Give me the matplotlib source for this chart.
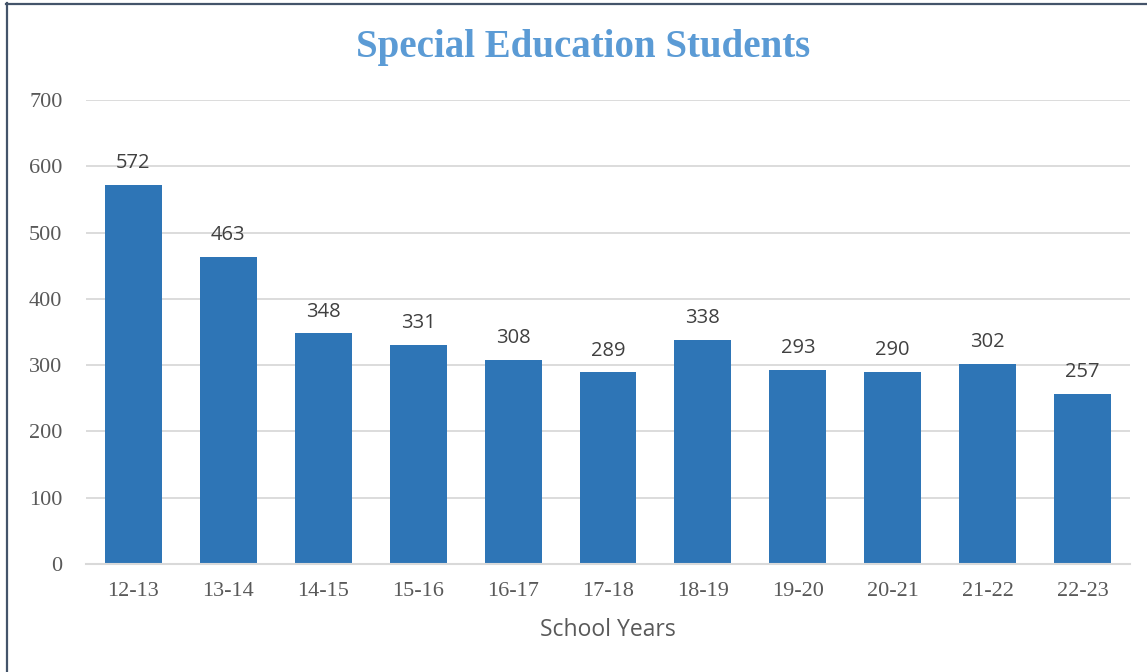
import matplotlib
matplotlib.use("Agg")
import matplotlib.pyplot as plt
from matplotlib.lines import Line2D

categories = ["12-13", "13-14", "14-15", "15-16", "16-17", "17-18",
              "18-19", "19-20", "20-21", "21-22", "22-23"]
students = [572, 463, 348, 331, 308, 289, 338, 293, 290, 302, 257]
y_ticks = [0, 100, 200, 300, 400, 500, 600, 700]

W, H = 1147, 672
fig = plt.figure(figsize=(W / 100, H / 100), dpi=100)
fig.patch.set_facecolor("white")

ax = fig.add_axes([86 / W, 1 - 564 / H, (1130 - 86) / W, (564 - 100) / H])
x = list(range(len(categories)))
bars = ax.bar(x, students, width=0.6, color="#2E75B6", zorder=3)
ax.set_xlim(-0.5, len(categories) - 0.5)
ax.set_ylim(0, 700)
ax.set_yticks(y_ticks)
ax.set_xticks(x)
ax.set_xticklabels(categories)

serif = ["Liberation Serif", "DejaVu Serif"]
sans = ["Open Sans", "DejaVu Sans"]
for lab in ax.get_yticklabels() + ax.get_xticklabels():
    lab.set_family(serif)
    lab.set_fontsize(16)
    lab.set_color("#595959")
ax.tick_params(axis="y", length=0, pad=17)
ax.tick_params(axis="x", length=0, pad=13)

ax.grid(axis="y", color="#D9D9D9", linewidth=1.3, zorder=0)
for s in ["left", "right", "top"]:
    ax.spines[s].set_visible(False)
ax.spines["bottom"].set_color("#D9D9D9")
ax.spines["bottom"].set_linewidth(1.5)
ax.spines["bottom"].set_zorder(4)

for xi, v in zip(x, students):
    ax.annotate(str(v), (xi, v), xytext=(0, 8.5), textcoords="offset points",
                ha="center", va="bottom", fontsize=14.5, color="#404040",
                family=sans)

ax.set_xlabel("School Years", fontsize=16.5, color="#595959", family=sans, labelpad=12)

fig.text(583 / W, 1 - 47 / H, "Special Education Students", ha="center", va="center",
         fontsize=28, fontweight="bold", color="#5B9BD5", family=serif)

# outer frame lines (left and top)
fig.add_artist(Line2D([6.5 / W, 6.5 / W], [0, 1 - 3 / H], transform=fig.transFigure,
                      color="#44546A", linewidth=1.6))
fig.add_artist(Line2D([6 / W, 1], [1 - 3.5 / H, 1 - 3.5 / H], transform=fig.transFigure,
                      color="#44546A", linewidth=1.6))

fig.savefig("out.png", dpi=100, facecolor="white")
